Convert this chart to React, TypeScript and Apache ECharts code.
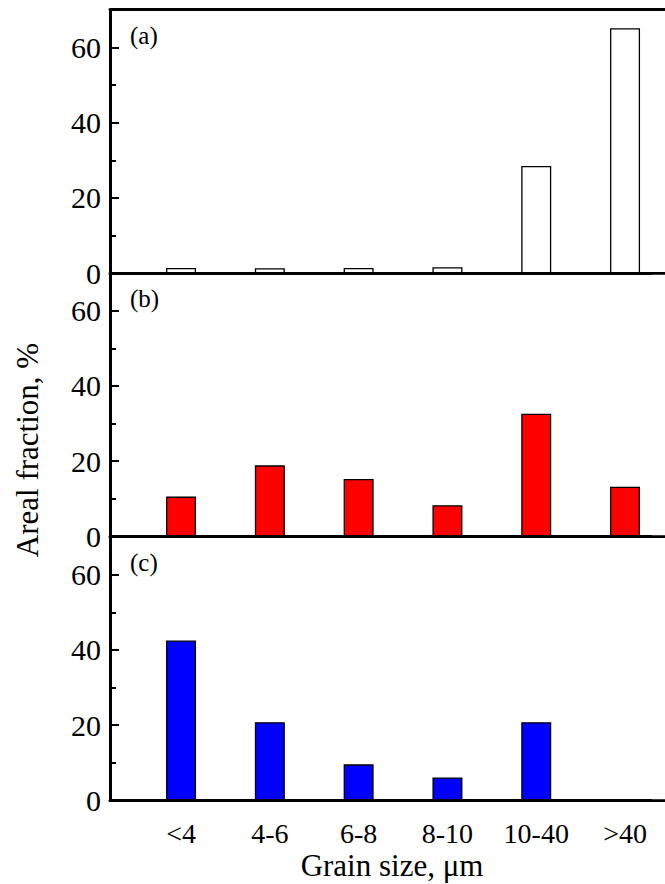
import React, { useEffect, useRef } from "react";
import * as echarts from "echarts";

const categories = ["<4", "4-6", "6-8", "8-10", "10-40", ">40"];
const panelA = [1.4, 1.3, 1.4, 1.6, 28.5, 65.1];
const panelB = [10.6, 18.9, 15.3, 8.3, 32.6, 13.2];
const panelC = [42.5, 20.8, 9.6, 6.1, 20.8, 0];
const panelLabels = ["(a)", "(b)", "(c)"];
const majorTicks = [0, 20, 40, 60];
const minorTicks = [10, 30, 50];
const xTitle = "Grain size, \u03bcm";
const yTitle = "Areal fraction, %";

const FONT = "'Liberation Serif', 'Times New Roman', serif";
// x scale: 88.8 px per category, left edge of plot at 110 px
const X_MIN = 0.2;
const X_MAX = 0.2 + 590 / 88.8;

export default function App() {
  const ref = useRef<HTMLDivElement>(null);
  useEffect(() => {
    if (!ref.current) return;
    const chart = echarts.init(ref.current, undefined, { renderer: "svg" });
    const tops = [9.7, 273, 537];
    const h = 263.5;
    const datasets = [panelA, panelB, panelC];
    const colors = ["#ffffff", "#ff0000", "#0000ff"];
    // plot area runs from 110 to 700 px; the visible page ends at 665 px
    const grids = [...tops, ...tops].map((t) => ({ left: 110, right: 20, top: t, height: h }));
    const xAxes: any[] = [];
    const yAxes: any[] = [];
    const series: any[] = [];
    tops.forEach((_, i) => {
      const isLast = i === 2;
      xAxes.push({
        type: "value",
        gridIndex: i,
        min: X_MIN,
        max: X_MAX,
        position: "bottom",
        z: 5,
        splitLine: { show: false },
        axisTick: { show: false },
        axisLine: { show: true, onZero: false, lineStyle: { color: "#000", width: 3 } },
        axisLabel: isLast
          ? {
              show: true,
              customValues: [1, 2, 3, 4, 5, 6],
              formatter: (v: number) => categories[Math.round(v) - 1] ?? "",
              fontFamily: FONT,
              fontSize: 28,
              color: "#000",
              margin: 19,
            }
          : { show: false },
      });
      yAxes.push({
        type: "value",
        gridIndex: i,
        min: 0,
        max: 70,
        position: "left",
        z: 5,
        splitLine: { show: false },
        axisLine: { show: true, onZero: false, lineStyle: { color: "#000", width: 3 } },
        axisTick: {
          show: true,
          inside: true,
          length: 9,
          customValues: majorTicks,
          lineStyle: { color: "#000", width: 2 },
        },
        axisLabel: {
          show: true,
          customValues: majorTicks,
          fontFamily: FONT,
          fontSize: 30,
          color: "#000",
          margin: 9,
        },
      });
      series.push({
        type: "bar",
        xAxisIndex: i,
        yAxisIndex: i,
        barWidth: 30,
        data: datasets[i].map((v, k) => [k + 1, v]),
        itemStyle: { color: colors[i], borderColor: "#000", borderWidth: 1.3 },
        z: 2,
      });
    });
    tops.forEach((_, i) => {
      xAxes.push({
        type: "value",
        gridIndex: 3 + i,
        min: X_MIN,
        max: X_MAX,
        show: false,
      });
      yAxes.push({
        type: "value",
        gridIndex: 3 + i,
        min: 0,
        max: 70,
        position: "left",
        z: 5,
        splitLine: { show: false },
        axisLine: { show: false },
        axisTick: {
          show: true,
          inside: true,
          length: 6,
          customValues: minorTicks,
          lineStyle: { color: "#000", width: 2 },
        },
        axisLabel: { show: false },
      });
    });
    xAxes.push({
      type: "value",
      gridIndex: 0,
      min: X_MIN,
      max: X_MAX,
      position: "top",
      z: 5,
      splitLine: { show: false },
      axisTick: { show: false },
      axisLabel: { show: false },
      axisLine: { show: true, onZero: false, lineStyle: { color: "#000", width: 3 } },
    });

    const graphics: any[] = panelLabels.map((t, i) => ({
      type: "text",
      x: 130,
      y: tops[i] + 25.5,
      style: {
        text: t,
        fontFamily: FONT,
        fontSize: 25,
        fill: "#000",
        textAlign: "left",
        textVerticalAlign: "middle",
      },
    }));
    graphics.push({
      type: "text",
      x: 27,
      y: 450,
      rotation: Math.PI / 2,
      style: {
        text: yTitle,
        fontFamily: FONT,
        fontSize: 31,
        fill: "#000",
        textAlign: "center",
        textVerticalAlign: "middle",
      },
    });
    graphics.push({
      type: "text",
      x: 392,
      y: 865,
      style: {
        text: xTitle,
        fontFamily: FONT,
        fontSize: 31,
        fill: "#000",
        textAlign: "center",
        textVerticalAlign: "middle",
      },
    });
    // keep the right side of each panel open (no frame on the right)
    const bands = [
      [11.4, 271.3],
      [274.7, 535.3],
      [538.7, 799.3],
    ];
    bands.forEach(([y0, y1]) => {
      graphics.push({
        type: "rect",
        z: 100,
        shape: { x: 652, y: y0, width: 30, height: y1 - y0 },
        style: { fill: "#ffffff" },
      });
    });

    chart.setOption({
      animation: false,
      backgroundColor: "#fff",
      grid: grids,
      xAxis: xAxes,
      yAxis: yAxes,
      series,
      graphic: graphics,
    });
    return () => chart.dispose();
  }, []);
  return (
    <div
      style={{
        position: "absolute",
        left: 0,
        top: 0,
        width: 665,
        height: 884,
        overflow: "hidden",
        background: "#fff",
      }}
    >
      <div ref={ref} style={{ width: 720, height: 884 }} />
    </div>
  );
}
